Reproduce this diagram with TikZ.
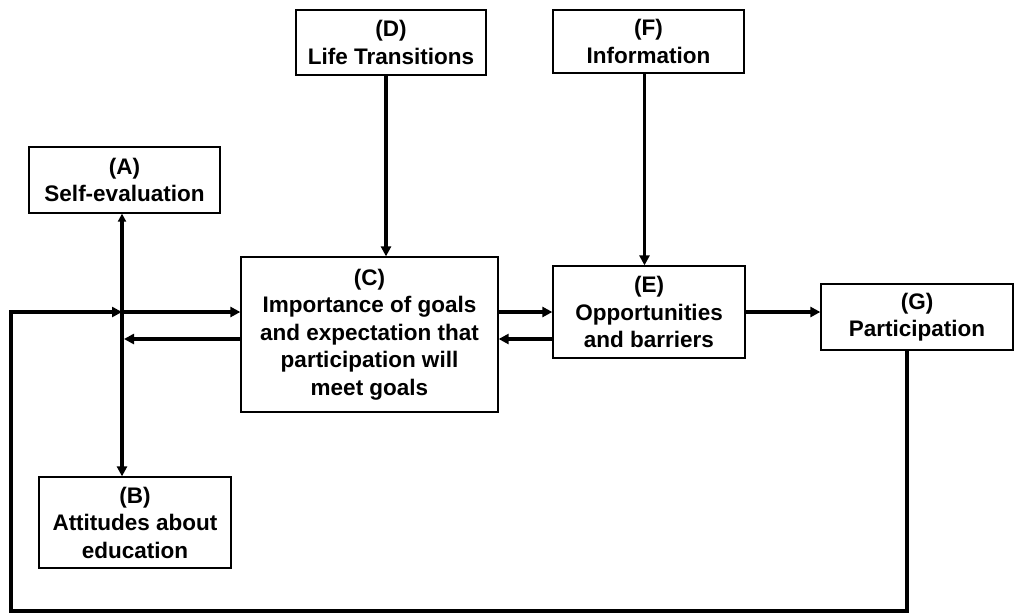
\documentclass[tikz,border=0pt]{standalone}
\usepackage{fontspec}
\setmainfont{Liberation Sans}
\usetikzlibrary{arrows.meta}
\begin{document}
\begin{tikzpicture}[x=1pt,y=-1pt,
  box/.style={draw=black,line width=1.3pt,align=center,inner sep=2pt,
    font=\fontsize{22.5}{27.5}\selectfont\bfseries},
  link/.style={line width=3.2pt,-{Triangle[length=10pt,width=10pt]}},
  link2/.style={line width=3.2pt,{Triangle[length=8pt,width=8pt]}-{Triangle[length=10pt,width=10pt]}}
]
\useasboundingbox (0,0) rectangle (1017,614);
\fill[white] (0,0) rectangle (1017,614);

% boxes
\node[box,minimum width=191pt,minimum height=66pt] (A) at (124.5,180) {(A)\\Self-evaluation};
\node[box,minimum width=192pt,minimum height=91pt] (B) at (135,522.5) {(B)\\Attitudes about\\education};
\node[box,minimum width=257pt,minimum height=155pt] (C) at (369.5,334.5)
  {(C)\\Importance of goals\\and expectation that\\participation will\\meet goals};
\node[box,minimum width=190pt,minimum height=65pt] (D) at (391,42.5) {(D)\\Life Transitions};
\node[box,minimum width=192pt,minimum height=92pt] (E) at (649,312) {(E)\\Opportunities\\and barriers};
\node[box,minimum width=191pt,minimum height=63pt] (F) at (648.5,41.5) {(F)\\Information};
\node[box,minimum width=192pt,minimum height=66pt] (G) at (917,317) {(G)\\Participation};

% junction points of the left-hand connectors
\coordinate (j) at (122,312);
\coordinate (jlow) at (124,339);
\coordinate (corner) at (11,611);

% A <-> B
\draw[link2] (j |- A.south) -- (j |- B.north);
% C <-> A/B column
\draw[link] (j) -- (j -| C.west);
\draw[link] (C.west |- jlow) -- (jlow);
% D -> C, F -> E
\draw[link] ([xshift=-5pt]D.south) -- ([xshift=-5pt]D.south |- C.north);
\draw[link] ([xshift=-4pt]F.south) -- ([xshift=-4pt]F.south |- E.north);
% C <-> E
\draw[link] (j -| C.east) -- (j -| E.west);
\draw[link] (E.west |- jlow) -- (jlow -| C.east);
% E -> G
\draw[link] (E.east |- j) -- (G.west |- j);
% feedback from G back to the left column
\draw[link,line join=miter] (G.south -| 907,0) -- (907,611) -- (corner) -- (corner |- j) -- (j);
\end{tikzpicture}
\end{document}
